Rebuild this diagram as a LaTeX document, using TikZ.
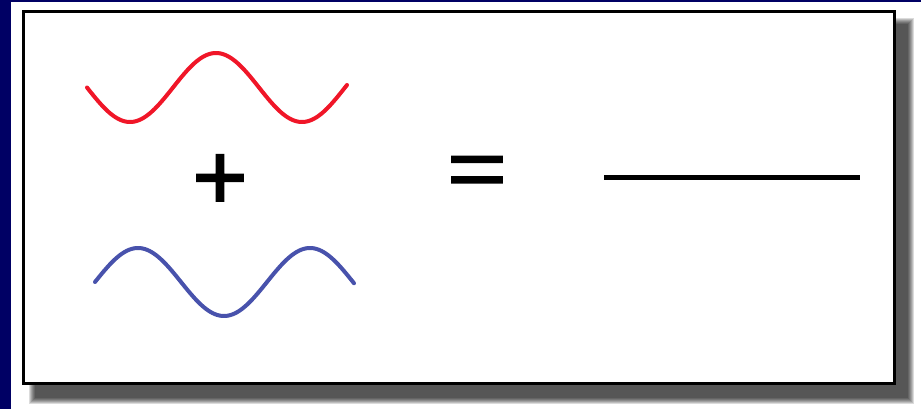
\documentclass[tikz,border=0pt]{standalone}
\usepackage{fontspec}
\setmainfont{Liberation Sans}
\newfontfamily\symfont[FakeBold=2]{Liberation Sans}
\definecolor{navybg}{RGB}{0,0,100}
\definecolor{wavered}{RGB}{240,22,40}
\definecolor{waveblue}{RGB}{72,82,172}
\begin{document}
\begin{tikzpicture}[x=1pt,y=-1pt,
  wave/.style={line width=4pt,line cap=round,line join=round,smooth},
  symb/.style={inner sep=0pt,outer sep=0pt,font=\symfont\fontsize{94}{94}\selectfont}]
\useasboundingbox (0,0) rectangle (921,409);
\fill[navybg] (0,0) rectangle (921,409);
\fill[white] (11,2) rectangle (921,409);
% shadow
\foreach \i in {0,...,6}
  \fill[black,opacity=0.14] (29+\i,18+\i) rectangle (914-\i,404-\i);
% frame
\draw[line width=3pt,fill=white] (23.5,12) rectangle (894,383.5);
% waves
\draw[wave,wavered] plot[domain=87:347,samples=120] (\x,{87.5+34.5*sin((\x-87)/172*360)});
\draw[wave,waveblue] plot[domain=95:354,samples=120] (\x,{282-34*sin((\x-95)/172*360)});
% symbols
\node[symb] (plus) at (220,182) {+};
\node[symb] (eq) at (477,176.5) {\scalebox{1.0}[0.8]{\symfont\fontsize{102}{102}\selectfont =}};
% result line
\coordinate (l1) at (604,177.5);
\coordinate (l2) at (860,177.5);
\draw[line width=4.3pt] (l1) -- (l2);
\end{tikzpicture}
\end{document}
